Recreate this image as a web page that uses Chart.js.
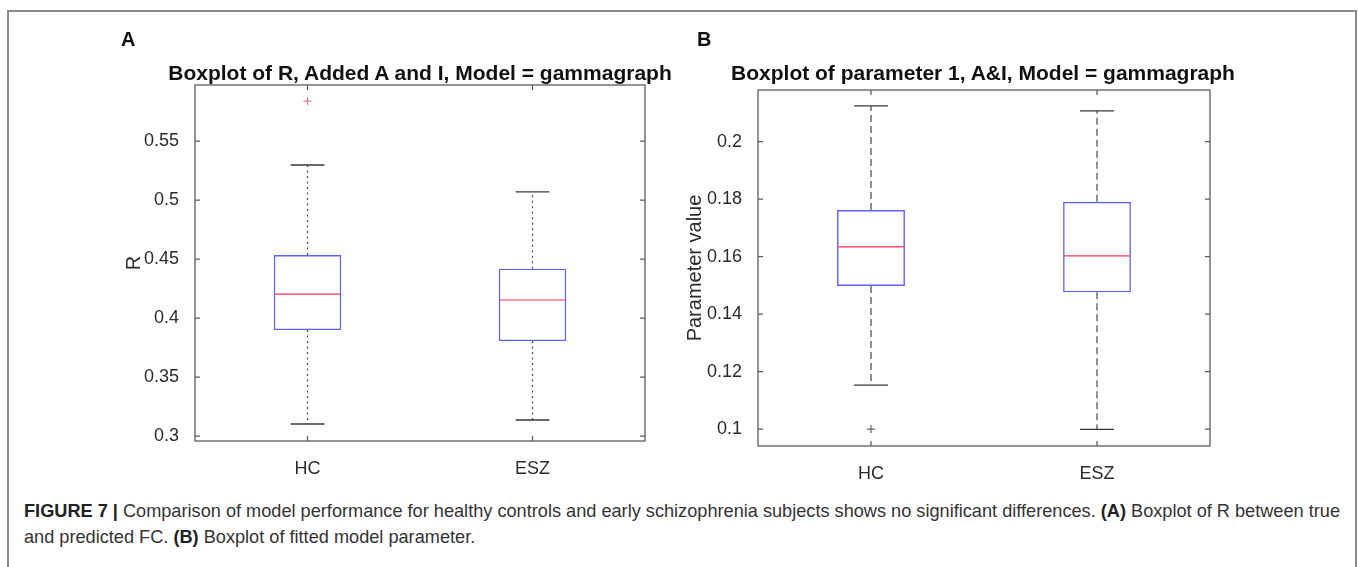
<!DOCTYPE html>
<html>
<head>
<meta charset="utf-8">
<script src="https://cdn.jsdelivr.net/npm/chart.js@4.4.1/dist/chart.umd.min.js"></script>
<style>
  html, body { margin: 0; padding: 0; background: #fff; }
  body { width: 1358px; height: 567px; position: relative; overflow: hidden; font-family: "Liberation Sans", Arial, sans-serif; }
  #frame { position: absolute; left: 7px; top: 10px; width: 1350px; height: 620px; border: 2px solid #8c8c8c; box-sizing: border-box; }
  canvas { position: absolute; top: 0; }
  #chartA { left: 90px; }
  #chartB { left: 654px; }
  .panel { position: absolute; font-weight: bold; font-size: 20px; line-height: 24px; color: #111; }
  .ptitle { position: absolute; width: 640px; text-align: center; font-weight: bold; font-size: 21px; line-height: 24px; color: #111; white-space: nowrap; }
  #caption { position: absolute; left: 24px; top: 498px; font-size: 18.5px; line-height: 26px; color: #333; white-space: nowrap; transform-origin: 0 0; }
  #caption b { color: #222; }
</style>
</head>
<body>
<div id="frame"></div>
<canvas id="chartA" width="660" height="490"></canvas>
<canvas id="chartB" width="660" height="490"></canvas>

<div class="panel" style="left:121px; top:27px;">A</div>
<div class="panel" style="left:697px; top:27px;">B</div>
<div class="ptitle" style="left:100px; top:61px;">Boxplot of R, Added A and I, Model = gammagraph</div>
<div class="ptitle" style="left:663px; top:61px;">Boxplot of parameter 1, A&amp;I, Model = gammagraph</div>

<div id="caption"><span id="capLine1"><b>FIGURE 7 |</b> Comparison of model performance for healthy controls and early schizophrenia subjects shows no significant differences. <b>(A)</b> Boxplot of R between true</span><br><span>and predicted FC. <b>(B)</b> Boxplot of fitted model parameter.</span></div>

<script>
// groups on the x axis
const groups = ['HC', 'ESZ'];

// panel A: R between true and predicted FC
const rLow = [0.3102, 0.3136];
const rQ1 = [0.3898, 0.3805];
const rMedian = [0.4203, 0.4153];
const rQ3 = [0.4534, 0.4418];
const rHigh = [0.5297, 0.5070];
const rOutlierGroup = ['HC'];
const rOutlierValue = [0.5839];
const rTicks = [0.3, 0.35, 0.4, 0.45, 0.5, 0.55];

// panel B: fitted model parameter
const pLow = [0.1153, 0.0999];
const pQ1 = [0.1498, 0.1476];
const pMedian = [0.1634, 0.1603];
const pQ3 = [0.1762, 0.1791];
const pHigh = [0.2125, 0.2107];
const pOutlierGroup = ['HC'];
const pOutlierValue = [0.1];
const pTicks = [0.1, 0.12, 0.14, 0.16, 0.18, 0.2];

const FONT = '"Liberation Sans", Arial, sans-serif';
const TEXT = '#2b2b2b';

// whiskers, caps and median line on top of the floating bars
const boxParts = {
  id: 'boxParts',
  afterDatasetsDraw(chart, args, opts) {
    const ctx = chart.ctx;
    const y = chart.scales.y;
    const meta = chart.getDatasetMeta(0);
    ctx.save();
    meta.data.forEach((bar, i) => {
      const cx = bar.x;
      const half = bar.width / 2;
      const capHalf = half / 2;

      ctx.strokeStyle = '#555';
      ctx.lineWidth = 1.3;
      ctx.setLineDash(opts.dash);
      ctx.beginPath();
      ctx.moveTo(cx, y.getPixelForValue(opts.q3[i]));
      ctx.lineTo(cx, y.getPixelForValue(opts.high[i]));
      ctx.moveTo(cx, y.getPixelForValue(opts.q1[i]));
      ctx.lineTo(cx, y.getPixelForValue(opts.low[i]));
      ctx.stroke();

      ctx.setLineDash([]);
      ctx.strokeStyle = '#3a3a3a';
      ctx.beginPath();
      const yHi = y.getPixelForValue(opts.high[i]);
      const yLo = y.getPixelForValue(opts.low[i]);
      ctx.moveTo(cx - capHalf, yHi);
      ctx.lineTo(cx + capHalf, yHi);
      ctx.moveTo(cx - capHalf, yLo);
      ctx.lineTo(cx + capHalf, yLo);
      ctx.stroke();

      ctx.strokeStyle = '#ff3355';
      ctx.lineWidth = 1.2;
      ctx.beginPath();
      const yMed = y.getPixelForValue(opts.median[i]);
      ctx.moveTo(cx - half + 1, yMed);
      ctx.lineTo(cx + half - 1, yMed);
      ctx.stroke();
    });
    ctx.restore();
  }
};

// box around the axes with inward tick marks on all four sides
const axesFrame = {
  id: 'axesFrame',
  afterDraw(chart) {
    const { ctx, chartArea: a } = chart;
    const x = chart.scales.x;
    const y = chart.scales.y;
    ctx.save();
    ctx.strokeStyle = '#5c5c5c';
    ctx.lineWidth = 1.3;
    ctx.strokeRect(a.left, a.top, a.right - a.left, a.bottom - a.top);
    ctx.beginPath();
    y.ticks.forEach(t => {
      const py = y.getPixelForValue(t.value);
      ctx.moveTo(a.left, py); ctx.lineTo(a.left + 5, py);
      ctx.moveTo(a.right, py); ctx.lineTo(a.right - 5, py);
    });
    x.ticks.forEach((t, i) => {
      const px = x.getPixelForTick(i);
      ctx.moveTo(px, a.bottom); ctx.lineTo(px, a.bottom - 5);
      ctx.moveTo(px, a.top); ctx.lineTo(px, a.top + 5);
    });
    ctx.stroke();
    ctx.restore();
  }
};

function makeBoxplot(canvasId, s) {
  return new Chart(document.getElementById(canvasId), {
    type: 'bar',
    data: {
      labels: groups,
      datasets: [
        {
          data: groups.map((g, i) => [s.q1[i], s.q3[i]]),
          backgroundColor: 'rgba(0,0,0,0)',
          borderColor: '#6060ff',
          borderWidth: 1.4,
          borderSkipped: false,
          barPercentage: 0.3,
          categoryPercentage: 1
        },
        {
          type: 'scatter',
          data: s.outGroup.map((g, i) => ({ x: g, y: s.outValue[i] })),
          pointStyle: 'cross',
          pointRadius: 4,
          borderColor: s.outColor,
          borderWidth: 1.2
        }
      ]
    },
    options: {
      responsive: false,
      animation: false,
      events: [],
      layout: { padding: s.padding },
      plugins: {
        legend: { display: false },
        tooltip: { enabled: false },
        boxParts: { q1: s.q1, q3: s.q3, median: s.median, low: s.low, high: s.high, dash: s.dash }
      },
      scales: {
        x: {
          grid: { display: false },
          border: { display: false },
          ticks: { font: { family: FONT, size: 18 }, color: TEXT, padding: 9 },
          afterFit: sc => { sc.height = 40; }
        },
        y: {
          type: 'linear',
          min: s.min,
          max: s.max,
          grid: { display: false },
          border: { display: false },
          ticks: {
            font: { family: FONT, size: 18 },
            color: TEXT,
            padding: 8,
            callback: v => String(v)
          },
          afterBuildTicks: sc => { sc.ticks = s.ticks.map(v => ({ value: v })); },
          afterFit: sc => { sc.width = s.axisWidth; },
          title: {
            display: true,
            text: s.yTitle,
            color: TEXT,
            font: { family: FONT, size: 20 },
            padding: { top: s.titlePad, bottom: 0 }
          }
        }
      }
    },
    plugins: [boxParts, axesFrame]
  });
}

makeBoxplot('chartA', {
  q1: rQ1, q3: rQ3, median: rMedian, low: rLow, high: rHigh,
  outGroup: rOutlierGroup, outValue: rOutlierValue, outColor: '#e8788a',
  ticks: rTicks, min: 0.2958, max: 0.5975,
  dash: [2, 3.5], yTitle: 'R', titlePad: 28, axisWidth: 101,
  padding: { left: 4, top: 85, right: 105, bottom: 9 }
});

makeBoxplot('chartB', {
  q1: pQ1, q3: pQ3, median: pMedian, low: pLow, high: pHigh,
  outGroup: pOutlierGroup, outValue: pOutlierValue, outColor: '#666',
  ticks: pTicks, min: 0.0941, max: 0.218,
  dash: [7, 4], yTitle: 'Parameter value', titlePad: 25.5, axisWidth: 100,
  padding: { left: 4, top: 90, right: 104, bottom: 4 }
});

// squeeze the caption so the first line fills the figure width
const cap = document.getElementById('caption');
const line1 = document.getElementById('capLine1');
const k = 1316 / line1.getBoundingClientRect().width;
cap.style.transform = 'scaleX(' + k + ')';
</script>
</body>
</html>
